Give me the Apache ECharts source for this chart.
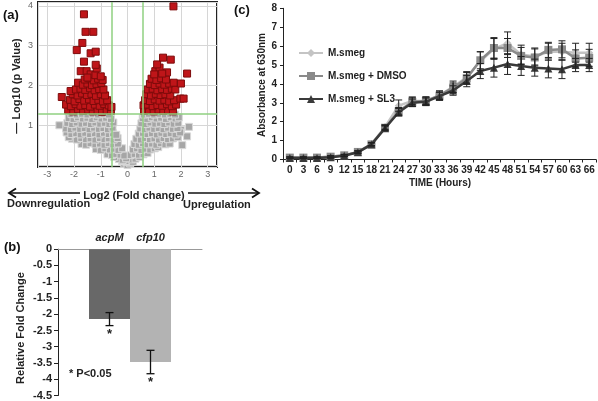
<!DOCTYPE html>
<html><head><meta charset="utf-8">
<script src="https://cdn.jsdelivr.net/npm/echarts@6/dist/echarts.min.js"></script>
<style>html,body{margin:0;padding:0;background:#fff}#c{width:598px;height:401px}</style>
</head><body><div id="c"></div>
<script>
const FONT = '"Liberation Sans", Arial, sans-serif';

// ---------- Panel (a): volcano plot, [log2 fold change, -log10 p] ----------
const volcanoGray = [
[-0.12,0.03],[0,0.0],[0.1,0.04],[-0.05,0.08],[0.06,0.1],[-0.2,0.1],[0.2,0.08],
[-0.32,0.15],[-0.18,0.13],[0.15,0.14],[0.3,0.16],[-0.05,0.17],[0.45,0.2],[-0.5,0.2],
[-0.75,0.27],[-0.58,0.25],[-0.42,0.28],[-0.26,0.26],[-0.12,0.24],[0.12,0.25],[0.27,0.28],[0.43,0.26],[0.6,0.27],[0.75,0.3],
[-1.18,0.4],[-1.0,0.38],[-0.83,0.42],[-0.66,0.39],[-0.5,0.41],[-0.34,0.38],[-0.2,0.42],[0.2,0.39],[0.36,0.42],[0.52,0.38],[0.68,0.41],[0.85,0.39],[1.02,0.42],[1.15,0.45],
[-1.72,0.53],[-1.55,0.51],[-1.38,0.55],[-1.2,0.52],[-1.03,0.54],[-0.86,0.51],[-0.7,0.55],[-0.53,0.52],[-0.36,0.54],[0.26,0.53],[0.42,0.51],[0.58,0.55],[0.75,0.52],[0.92,0.54],[1.08,0.51],[1.25,0.55],[1.42,0.52],[1.58,0.54],
[-2.08,0.66],[-1.9,0.64],[-1.73,0.68],[-1.55,0.65],[-1.38,0.67],[-1.2,0.64],[-1.03,0.68],[-0.86,0.65],[-0.7,0.67],[-0.52,0.64],[-0.37,0.68],[0.33,0.66],[0.5,0.64],[0.67,0.68],[0.84,0.65],[1.01,0.67],[1.18,0.64],[1.35,0.68],[1.52,0.65],[1.7,0.67],[1.88,0.7],
[-2.2,0.7],[2.23,0.72],[2.05,0.5],[2.0,0.88],
[-2.28,0.82],[-2.1,0.78],[-1.92,0.8],[-1.75,0.77],[-1.58,0.81],[-1.4,0.78],[-1.22,0.8],[-1.05,0.77],[-0.88,0.81],[-0.7,0.78],[-0.54,0.8],[-0.42,0.76],[0.42,0.79],[0.58,0.81],[0.75,0.78],[0.92,0.8],[1.1,0.77],[1.27,0.81],[1.45,0.78],[1.62,0.8],[1.8,0.77],[1.97,0.82],
[-2.3,0.92],[-2.12,0.9],[-1.95,0.94],[-1.77,0.91],[-1.6,0.93],[-1.42,0.9],[-1.25,0.94],[-1.07,0.91],[-0.9,0.93],[-0.73,0.9],[-0.56,0.94],[0.48,0.92],[0.65,0.9],[0.82,0.94],[1.0,0.91],[1.17,0.93],[1.35,0.9],[1.52,0.94],[1.7,0.91],[1.87,0.93],[2.3,0.96],
[-2.55,1.0],[-2.25,1.06],[-2.07,1.03],[-1.9,1.07],[-1.72,1.04],[-1.55,1.06],[-1.37,1.03],[-1.2,1.07],[-1.02,1.04],[-0.85,1.06],[-0.68,1.03],[-0.53,1.07],[0.52,1.05],[0.69,1.03],[0.86,1.07],[1.04,1.04],[1.21,1.06],[1.38,1.03],[1.56,1.07],[1.73,1.04],[1.9,1.06],
[-2.2,1.18],[-2.02,1.16],[-1.85,1.2],[-1.67,1.17],[-1.5,1.19],[-1.32,1.16],[-1.15,1.2],[-0.97,1.17],[-0.8,1.19],[-0.62,1.16],[0.57,1.18],[0.74,1.16],[0.91,1.2],[1.09,1.17],[1.26,1.19],[1.44,1.16],[1.62,1.2],[1.8,1.17],[1.92,1.2],
[-2.1,1.28],[-1.9,1.27],[-1.7,1.29],[-1.5,1.27],[-1.3,1.29],[-1.1,1.27],[-0.9,1.29],[-0.7,1.27],[0.62,1.27],[0.8,1.29],[1.0,1.27],[1.2,1.29],[1.4,1.27],[1.6,1.29],[1.78,1.27]
];
const volcanoRed = [
[-2.22,1.38],[-2.03,1.35],[-1.85,1.4],[-1.66,1.36],[-1.47,1.39],[-1.3,1.35],[-1.12,1.37],[-0.95,1.34],[-0.78,1.38],[-0.62,1.36],
[-2.3,1.52],[-2.12,1.48],[-1.94,1.53],[-1.76,1.49],[-1.58,1.51],[-1.4,1.47],[-1.22,1.52],[-1.04,1.49],[-0.87,1.53],[-0.7,1.5],[-0.6,1.46],
[-2.15,1.64],[-1.98,1.6],[-1.8,1.66],[-1.62,1.62],[-1.44,1.65],[-1.27,1.61],[-1.09,1.64],[-0.92,1.6],[-0.76,1.63],[-2.46,1.71],
[-2.05,1.78],[-1.87,1.75],[-1.7,1.8],[-1.52,1.76],[-1.35,1.79],[-1.18,1.74],[-1.0,1.78],[-0.84,1.75],
[-2.13,1.86],[-1.93,1.9],[-1.76,1.92],[-1.58,1.89],[-1.4,1.93],[-1.23,1.88],[-1.06,1.91],[-0.9,1.9],
[-1.85,2.07],[-1.67,2.02],[-1.5,2.05],[-1.33,2.01],[-1.16,2.04],[-0.98,2.06],
[-1.6,2.15],[-1.43,2.18],[-1.26,2.13],[-1.1,2.17],[-0.93,2.14],
[-1.75,2.36],[-1.53,2.36],[-1.38,2.28],[-1.2,2.26],[-1.0,2.23],[-1.5,2.2],
[-1.15,2.43],[-1.19,2.52],[-1.63,2.6],[-1.38,2.81],[-1.19,2.85],[-1.9,2.89],[-1.69,3.07],[-1.57,3.35],[-1.28,3.35],[-1.63,3.79],
[0.62,1.36],[0.8,1.38],[0.98,1.35],[1.16,1.39],[1.34,1.36],[1.52,1.38],[1.7,1.35],
[0.6,1.5],[0.76,1.52],[0.94,1.48],[1.12,1.51],[1.3,1.49],[1.48,1.53],[1.66,1.48],[1.82,1.52],
[0.66,1.63],[0.84,1.61],[1.02,1.65],[1.2,1.62],[1.38,1.64],[1.56,1.6],[1.74,1.63],[1.98,1.67],[2.1,1.67],
[0.7,1.78],[0.88,1.75],[1.06,1.79],[1.24,1.76],[1.42,1.78],[1.6,1.75],
[0.76,1.9],[0.94,1.92],[1.12,1.88],[1.3,1.91],[1.48,1.89],[1.66,1.92],[1.79,1.9],
[0.84,2.04],[1.02,2.01],[1.2,2.05],[1.38,2.02],[1.56,2.05],[1.73,2.07],[2.0,2.05],
[0.9,2.17],[1.08,2.14],[1.26,2.18],[1.44,2.15],
[1.04,2.36],[1.2,2.45],[1.11,2.53],[1.48,2.33],[1.0,2.28],[1.3,2.3],[1.33,2.7],[1.62,2.65],[2.23,2.3],[1.72,3.99]
];
const foldCut = 0.585;   // log2(1.5)
const pCut = 1.301;      // -log10(0.05)

// ---------- Panel (b): relative fold change ----------
const genes = ['acpM', 'cfp10'];
const foldChange = [-2.15, -3.47];
const foldErr = [0.2, 0.36];

// ---------- Panel (c): growth curves ----------
const hours = ['0','3','6','9','12','15','18','21','24','27','30','33','36','39','42','45','48','51','54','57','60','63','66'];
const msmeg = [0.1,0.1,0.1,0.15,0.22,0.4,0.82,1.72,2.85,3.1,3.1,3.4,3.85,4.35,5.2,5.85,6.15,5.55,5.45,5.7,5.7,5.65,5.65];
const msmegErr = [0.04,0.04,0.04,0.05,0.05,0.06,0.08,0.12,0.3,0.2,0.2,0.22,0.3,0.3,0.5,0.55,0.6,0.5,0.45,0.45,0.45,0.5,0.5];
const dmso = [0.1,0.1,0.1,0.15,0.22,0.4,0.8,1.68,2.55,3.05,3.1,3.38,3.8,4.3,5.25,5.9,5.9,5.48,5.4,5.8,5.83,5.35,5.38];
const dmsoErr = [0.04,0.04,0.04,0.05,0.05,0.06,0.08,0.12,0.2,0.25,0.22,0.25,0.25,0.3,0.45,0.55,0.5,0.45,0.45,0.4,0.45,0.45,0.45];
const sl3 = [0.08,0.08,0.08,0.12,0.2,0.38,0.8,1.65,2.5,3.0,3.05,3.35,3.65,4.15,4.68,4.86,5.05,4.95,4.86,4.82,4.78,5.0,5.0];
const sl3Err = [0.04,0.04,0.04,0.05,0.05,0.06,0.08,0.12,0.2,0.2,0.2,0.2,0.25,0.3,0.4,0.5,0.55,0.5,0.45,0.5,0.5,0.35,0.35];
const seriesNames = ['M.smeg', 'M.smeg + DMSO', 'M.smeg + SL3'];

const BAR_W = 41;

function errItem(color, capHalf) {
  return function (params, api) {
    const x = api.value(0), lo = api.value(1), hi = api.value(2);
    const p1 = api.coord([x, lo]), p2 = api.coord([x, hi]);
    const st = { stroke: color, lineWidth: 1 };
    return { type: 'group', children: [
      { type: 'line', shape: { x1: p1[0], y1: p1[1], x2: p2[0], y2: p2[1] }, style: st },
      { type: 'line', shape: { x1: p1[0] - capHalf, y1: p1[1], x2: p1[0] + capHalf, y2: p1[1] }, style: st },
      { type: 'line', shape: { x1: p2[0] - capHalf, y1: p2[1], x2: p2[0] + capHalf, y2: p2[1] }, style: st }
    ]};
  };
}

function barErrItem(params, api) {
  const i = api.value(0), lo = api.value(1), hi = api.value(2);
  const off = (i === 0 ? -BAR_W / 2 : BAR_W / 2);
  const pl = api.coord([0, lo]), ph = api.coord([0, hi]);
  const x = pl[0] + off;
  const st = { stroke: '#111', lineWidth: 1.3 };
  return { type: 'group', children: [
    { type: 'line', shape: { x1: x, y1: pl[1], x2: x, y2: ph[1] }, style: st },
    { type: 'line', shape: { x1: x - 4, y1: pl[1], x2: x + 4, y2: pl[1] }, style: st },
    { type: 'line', shape: { x1: x - 4, y1: ph[1], x2: x + 4, y2: ph[1] }, style: st },
    { type: 'text', x: x, y: pl[1] + 9, style: { text: '*', font: 'bold 13px ' + FONT, fill: '#222', align: 'center', verticalAlign: 'middle' } }
  ]};
}

const boldLbl = { fontFamily: FONT, fontWeight: 'bold', color: '#222' };

const option = {
  animation: false,
  backgroundColor: '#fff',
  grid: [
    { left: 38, top: 2, width: 179, height: 165, show: true, borderColor: '#222', borderWidth: 2, backgroundColor: 'transparent' },
    { left: 58, top: 249.2, width: 144, height: 146.4 },
    { left: 283, top: 8.3, width: 313, height: 151.2 }
  ],
  xAxis: [
    { gridIndex: 0, type: 'value', min: -3.35, max: 3.35, splitNumber: 6,
      axisLine: { show: false }, axisTick: { show: false },
      axisLabel: { fontFamily: FONT, fontSize: 9, color: '#666', margin: 3,
        formatter: v => Math.abs(v - Math.round(v)) < 1e-6 ? String(Math.round(v)) : '' },
      splitLine: { lineStyle: { color: '#d6d6d6', width: 1 } } },
    { gridIndex: 1, type: 'category', data: ['genes'], position: 'top',
      axisLine: { lineStyle: { color: '#999', width: 1 } }, axisTick: { show: false }, axisLabel: { show: false } },
    { gridIndex: 2, type: 'category', data: hours, boundaryGap: true,
      axisLine: { lineStyle: { color: '#222', width: 1 } }, axisTick: { show: true, length: 3, lineStyle: { color: '#222' } },
      axisLabel: Object.assign({ fontSize: 10, interval: 0, margin: 6 }, boldLbl) }
  ],
  yAxis: [
    { gridIndex: 0, type: 'value', min: -0.05, max: 4.1, splitNumber: 5,
      axisLine: { show: false }, axisTick: { show: false },
      axisLabel: { fontFamily: FONT, fontSize: 9, color: '#666', margin: 5,
        formatter: v => (Math.abs(v - Math.round(v)) < 1e-6 && Math.round(v) > 0) ? String(Math.round(v)) : '' },
      splitLine: { lineStyle: { color: '#d6d6d6', width: 1 } } },
    { gridIndex: 1, type: 'value', min: -4.5, max: 0, interval: 0.5,
      axisLine: { show: true, lineStyle: { color: '#222', width: 1 } },
      axisTick: { show: true, length: 4, lineStyle: { color: '#222' } },
      axisLabel: Object.assign({ fontSize: 11, margin: 6 }, boldLbl), splitLine: { show: false } },
    { gridIndex: 2, type: 'value', min: 0, max: 8, interval: 1,
      axisLine: { show: true, lineStyle: { color: '#222', width: 1 } },
      axisTick: { show: true, length: 3, lineStyle: { color: '#222' } },
      axisLabel: Object.assign({ fontSize: 10, margin: 6 }, boldLbl), splitLine: { show: false } }
  ],
  legend: {
    data: seriesNames, orient: 'vertical', left: 293, top: 43, itemGap: 13, itemWidth: 24, itemHeight: 10,
    textStyle: Object.assign({ fontSize: 10 }, boldLbl)
  },
  series: [
    { type: 'scatter', xAxisIndex: 0, yAxisIndex: 0, data: volcanoGray, symbol: 'rect', symbolSize: 7,
      itemStyle: { color: '#a6a6a6', borderColor: '#d9d9d9', borderWidth: 1, opacity: 1 }, silent: true },
    { type: 'scatter', xAxisIndex: 0, yAxisIndex: 0, data: volcanoRed, symbol: 'rect', symbolSize: 7,
      itemStyle: { color: '#bf1519', borderColor: '#7d0b0b', borderWidth: 1, opacity: 1 }, silent: true,
      markLine: { silent: true, symbol: 'none', label: { show: false },
        lineStyle: { color: '#8fd080', width: 1.5, type: 'solid' },
        data: [{ xAxis: -foldCut }, { xAxis: foldCut }, { yAxis: pCut }] } },

    { type: 'bar', name: genes[0], xAxisIndex: 1, yAxisIndex: 1, data: [foldChange[0]], barWidth: BAR_W, barGap: '0%',
      itemStyle: { color: '#686868' },
      label: { show: true, position: 'top', distance: 6, formatter: genes[0], fontFamily: FONT, fontStyle: 'italic', fontWeight: 'bold', fontSize: 11, color: '#222' } },
    { type: 'bar', name: genes[1], xAxisIndex: 1, yAxisIndex: 1, data: [foldChange[1]], barWidth: BAR_W, barGap: '0%',
      itemStyle: { color: '#b3b3b3' },
      label: { show: true, position: 'top', distance: 6, formatter: genes[1], fontFamily: FONT, fontStyle: 'italic', fontWeight: 'bold', fontSize: 11, color: '#222' } },
    { type: 'custom', xAxisIndex: 1, yAxisIndex: 1, renderItem: barErrItem, z: 5,
      data: foldChange.map((v, i) => [i, v - foldErr[i], v + foldErr[i]]) },

    { type: 'line', name: seriesNames[0], xAxisIndex: 2, yAxisIndex: 2, data: msmeg, symbol: 'diamond', symbolSize: 8,
      lineStyle: { color: '#c4c4c4', width: 2.5 }, itemStyle: { color: '#c4c4c4' }, z: 3 },
    { type: 'line', name: seriesNames[1], xAxisIndex: 2, yAxisIndex: 2, data: dmso, symbol: 'rect', symbolSize: 8,
      lineStyle: { color: '#8a8a8a', width: 2.5 }, itemStyle: { color: '#8a8a8a' }, z: 4 },
    { type: 'line', name: seriesNames[2], xAxisIndex: 2, yAxisIndex: 2, data: sl3, symbol: 'triangle', symbolSize: 8,
      lineStyle: { color: '#3a3a3a', width: 2.5 }, itemStyle: { color: '#3a3a3a' }, z: 5 },
    { type: 'custom', xAxisIndex: 2, yAxisIndex: 2, renderItem: errItem('#222', 3.5), z: 6,
      data: msmeg.map((v, i) => [i, v - msmegErr[i], v + msmegErr[i]]) },
    { type: 'custom', xAxisIndex: 2, yAxisIndex: 2, renderItem: errItem('#222', 3.5), z: 6,
      data: dmso.map((v, i) => [i, v - dmsoErr[i], v + dmsoErr[i]]) },
    { type: 'custom', xAxisIndex: 2, yAxisIndex: 2, renderItem: errItem('#222', 3.5), z: 6,
      data: sl3.map((v, i) => [i, v - sl3Err[i], v + sl3Err[i]]) }
  ],
  graphic: [
    { type: 'text', left: 3, top: 9, style: { text: '(a)', font: 'bold 13px ' + FONT, fill: '#111' } },
    { type: 'text', left: 4, top: 241, style: { text: '(b)', font: 'bold 13px ' + FONT, fill: '#111' } },
    { type: 'text', left: 234, top: 4, style: { text: '(c)', font: 'bold 13px ' + FONT, fill: '#111' } },
    { type: 'text', x: 17, y: 86, rotation: Math.PI / 2, style: { text: '— Log10 (p Value)', font: 'bold 11px ' + FONT, fill: '#222', align: 'center', verticalAlign: 'middle' } },
    { type: 'text', x: 21, y: 328, rotation: Math.PI / 2, style: { text: 'Relative Fold Change', font: 'bold 11px ' + FONT, fill: '#222', align: 'center', verticalAlign: 'middle' } },
    { type: 'text', x: 262, y: 85, rotation: Math.PI / 2, style: { text: 'Absorbance at 630nm', font: 'bold 10px ' + FONT, fill: '#222', align: 'center', verticalAlign: 'middle' } },
    { type: 'text', x: 440, y: 183, style: { text: 'TIME (Hours)', font: 'bold 10px ' + FONT, fill: '#222', align: 'center', verticalAlign: 'middle' } },
    { type: 'text', x: 134, y: 196, style: { text: 'Log2 (Fold change)', font: 'bold 11px ' + FONT, fill: '#222', align: 'center', verticalAlign: 'middle' } },
    { type: 'text', x: 7, y: 204, style: { text: 'Downregulation', font: 'bold 11px ' + FONT, fill: '#222', align: 'left', verticalAlign: 'middle' } },
    { type: 'text', x: 183, y: 205, style: { text: 'Upregulation', font: 'bold 11px ' + FONT, fill: '#222', align: 'left', verticalAlign: 'middle' } },
    { type: 'line', shape: { x1: 9, y1: 193, x2: 80, y2: 193 }, style: { stroke: '#111', lineWidth: 1.5 } },
    { type: 'polyline', shape: { points: [[16, 188.5], [9, 193], [16, 197.5]] }, style: { stroke: '#111', lineWidth: 1.8, fill: 'none' } },
    { type: 'line', shape: { x1: 188, y1: 193, x2: 259, y2: 193 }, style: { stroke: '#111', lineWidth: 1.5 } },
    { type: 'polyline', shape: { points: [[252, 188.5], [259, 193], [252, 197.5]] }, style: { stroke: '#111', lineWidth: 1.8, fill: 'none' } },
    { type: 'text', x: 69, y: 374, style: { text: '* P<0.05', font: 'bold 11px ' + FONT, fill: '#222', align: 'left', verticalAlign: 'middle' } }
  ]
};

const chart = echarts.init(document.getElementById('c'), null, { renderer: 'canvas' });
chart.setOption(option);
</script>
</body></html>
